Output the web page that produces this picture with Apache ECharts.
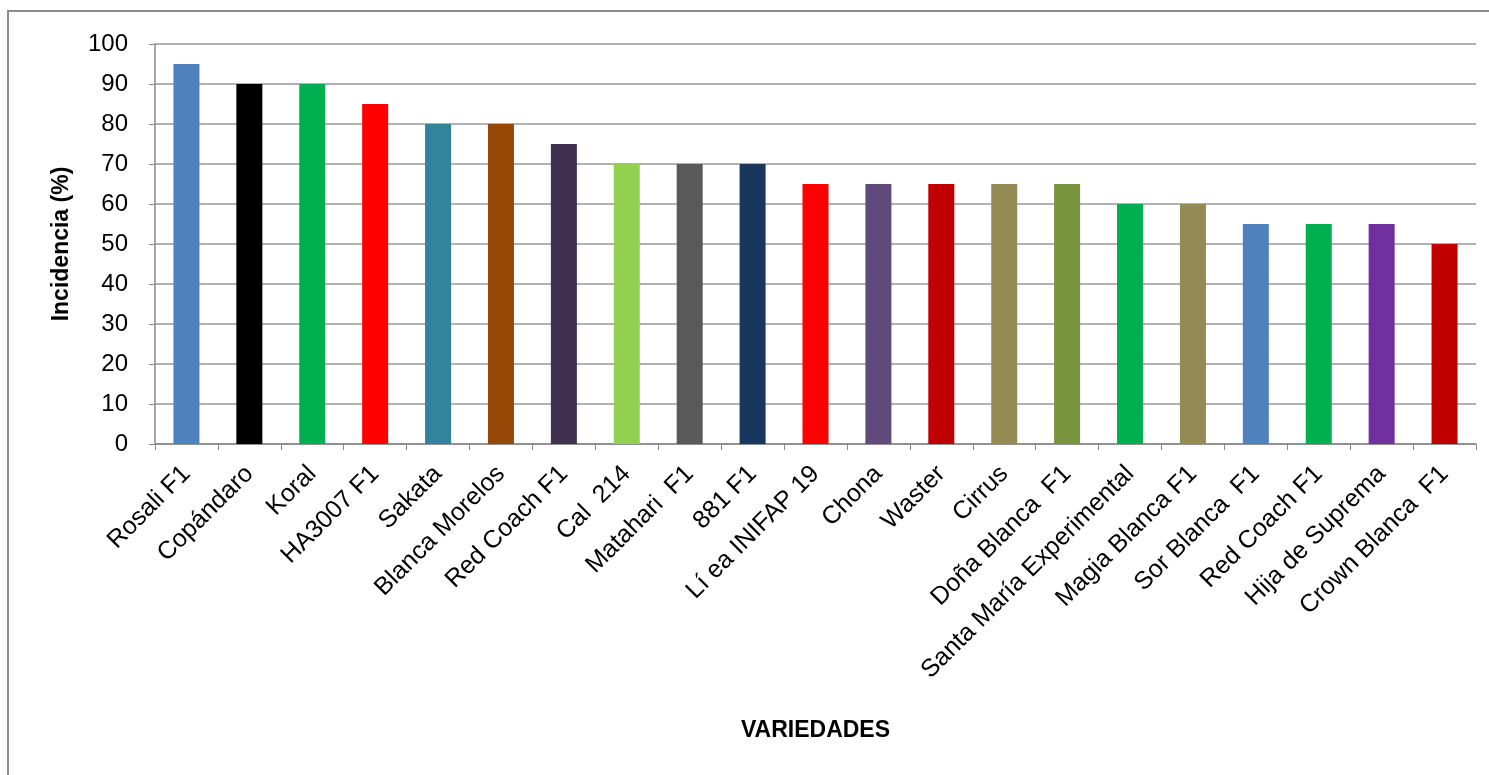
<!DOCTYPE html>
<html>
<head>
<meta charset="utf-8">
<script src="https://cdn.jsdelivr.net/npm/echarts@6/dist/echarts.min.js"></script>
<style>
html,body{margin:0;padding:0;background:#fff;}
#c{width:1489px;height:775px;}
</style>
</head>
<body>
<div id="c"></div>
<script>
const categories = ["Rosali F1","Copándaro","Koral","HA3007 F1","Sakata","Blanca Morelos","Red Coach F1","Cal  214","Matahari  F1","881 F1","Lí ea INIFAP 19","Chona","Waster","Cirrus","Doña Blanca  F1","Santa María Experimental","Magia Blanca F1","Sor Blanca  F1","Red Coach F1","Hija de Suprema","Crown Blanca  F1"];
const values = [95,90,90,85,80,80,75,70,70,70,65,65,65,65,65,60,60,55,55,55,50];
const barColors = ["#4F81BD","#000000","#00B050","#FF0000","#31849B","#974706","#403151","#92D050","#595959","#17375E","#FF0000","#604A7B","#C00000","#948A54","#77933C","#00B050","#948A54","#4F81BD","#00B050","#7030A0","#C00000"];
const yTicks = {min:0, max:100, interval:10};
const yName = "Incidencia (%)";
const xName = "VARIEDADES";

const chart = echarts.init(document.getElementById('c'), null, {renderer:'canvas'});
const font = "Liberation Sans";
chart.setOption({
  animation:false,
  backgroundColor:'#fff',
  graphic:[{type:'rect', shape:{x:8,y:11,width:1600,height:900}, style:{fill:'none', stroke:'#8c8c8c', lineWidth:2}, z:-1}],
  grid:{left:155, top:44, right:13, bottom:331, containLabel:false},
  xAxis:{
    type:'category', data:categories,
    name:xName, nameLocation:'middle', nameGap:275,
    nameTextStyle:{fontFamily:font, fontWeight:'bold', fontSize:23, color:'#000'},
    axisLine:{lineStyle:{color:'#888', width:1.5}},
    axisTick:{show:true, alignWithLabel:false, length:6, lineStyle:{color:'#888'}},
    axisLabel:{rotate:45, interval:0, fontFamily:font, fontSize:25, color:'#000', margin:26}
  },
  yAxis:{
    type:'value', min:yTicks.min, max:yTicks.max, interval:yTicks.interval,
    name:yName, nameLocation:'middle', nameGap:82, nameRotate:90,
    nameTextStyle:{fontFamily:font, fontWeight:'bold', fontSize:23, color:'#000'},
    axisLine:{show:true, lineStyle:{color:'#888', width:1.5}},
    axisTick:{show:true, length:6, lineStyle:{color:'#888'}},
    axisLabel:{fontFamily:font, fontSize:24, color:'#000', margin:27},
    splitLine:{lineStyle:{color:'#999', width:1.5}}
  },
  series:[{
    type:'bar',
    data:values.map((v,i)=>({value:v, itemStyle:{color:barColors[i]}})),
    barWidth:26
  }]
});
</script>
</body>
</html>
